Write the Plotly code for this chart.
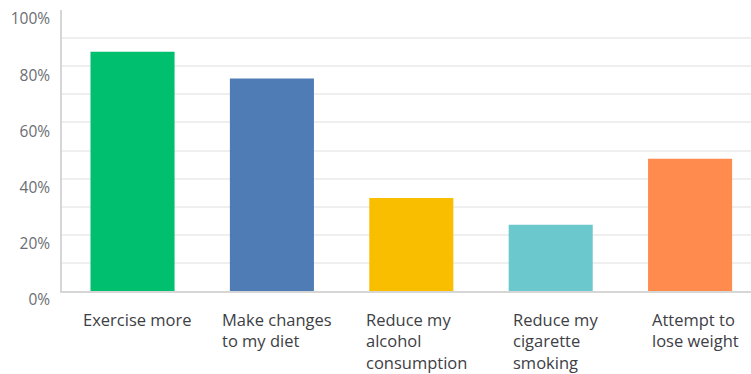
import plotly.graph_objects as go

categories = ["Exercise more", "Make changes to my diet", "Reduce my alcohol consumption",
              "Reduce my cigarette smoking", "Attempt to lose weight"]
label_lines = ["Exercise more", "Make changes<br>to my diet", "Reduce my<br>alcohol<br>consumption",
               "Reduce my<br>cigarette<br>smoking", "Attempt to<br>lose weight"]
values = [85.1, 75.6, 33.1, 23.6, 47.1]
colors = ["#00BF6F", "#507CB6", "#F9BE00", "#6BC8CD", "#FF8B4F"]
ytick_vals = [0, 20, 40, 60, 80, 100]
ytick_text = ["0%", "20%", "40%", "60%", "80%", "100%"]
grid_vals = [10, 20, 30, 40, 50, 60, 70, 80, 90]

FONT = "Open Sans"

fig = go.Figure()
fig.add_trace(go.Bar(
    x=categories, y=values, marker=dict(color=colors, line=dict(width=0)),
    width=0.603, hoverinfo="skip",
))

for cat, txt in zip(categories, label_lines):
    fig.add_annotation(
        x=cat, xref="x", y=0, yref="paper", yanchor="top", xanchor="center",
        text=txt, align="left", showarrow=False, yshift=-15, xshift=5,
        font=dict(family=FONT, size=16.5, color="#3d4045"),
    )

fig.update_layout(
    width=751, height=374,
    margin=dict(l=62, r=0, t=10, b=83),
    plot_bgcolor="white", paper_bgcolor="white",
    showlegend=False,
    xaxis=dict(
        range=[-0.506, 4.437], showticklabels=False, showgrid=False,
        showline=True, linecolor="#d6d6d6", linewidth=1.5, zeroline=False,
    ),
    yaxis=dict(
        range=[0, 100], tickvals=ytick_vals, ticktext=ytick_text, showgrid=False,
        showline=True, linecolor="#d6d6d6", linewidth=1.5, zeroline=False,
        ticks="", ticklabelstandoff=7, ticklabelshift=9,
        tickfont=dict(family=FONT, size=15.5, color="#6b6e73"),
        minor=dict(tickvals=grid_vals, showgrid=True, gridcolor="#efefef", gridwidth=1.5),
    ),
)

fig.write_html("out.html")
